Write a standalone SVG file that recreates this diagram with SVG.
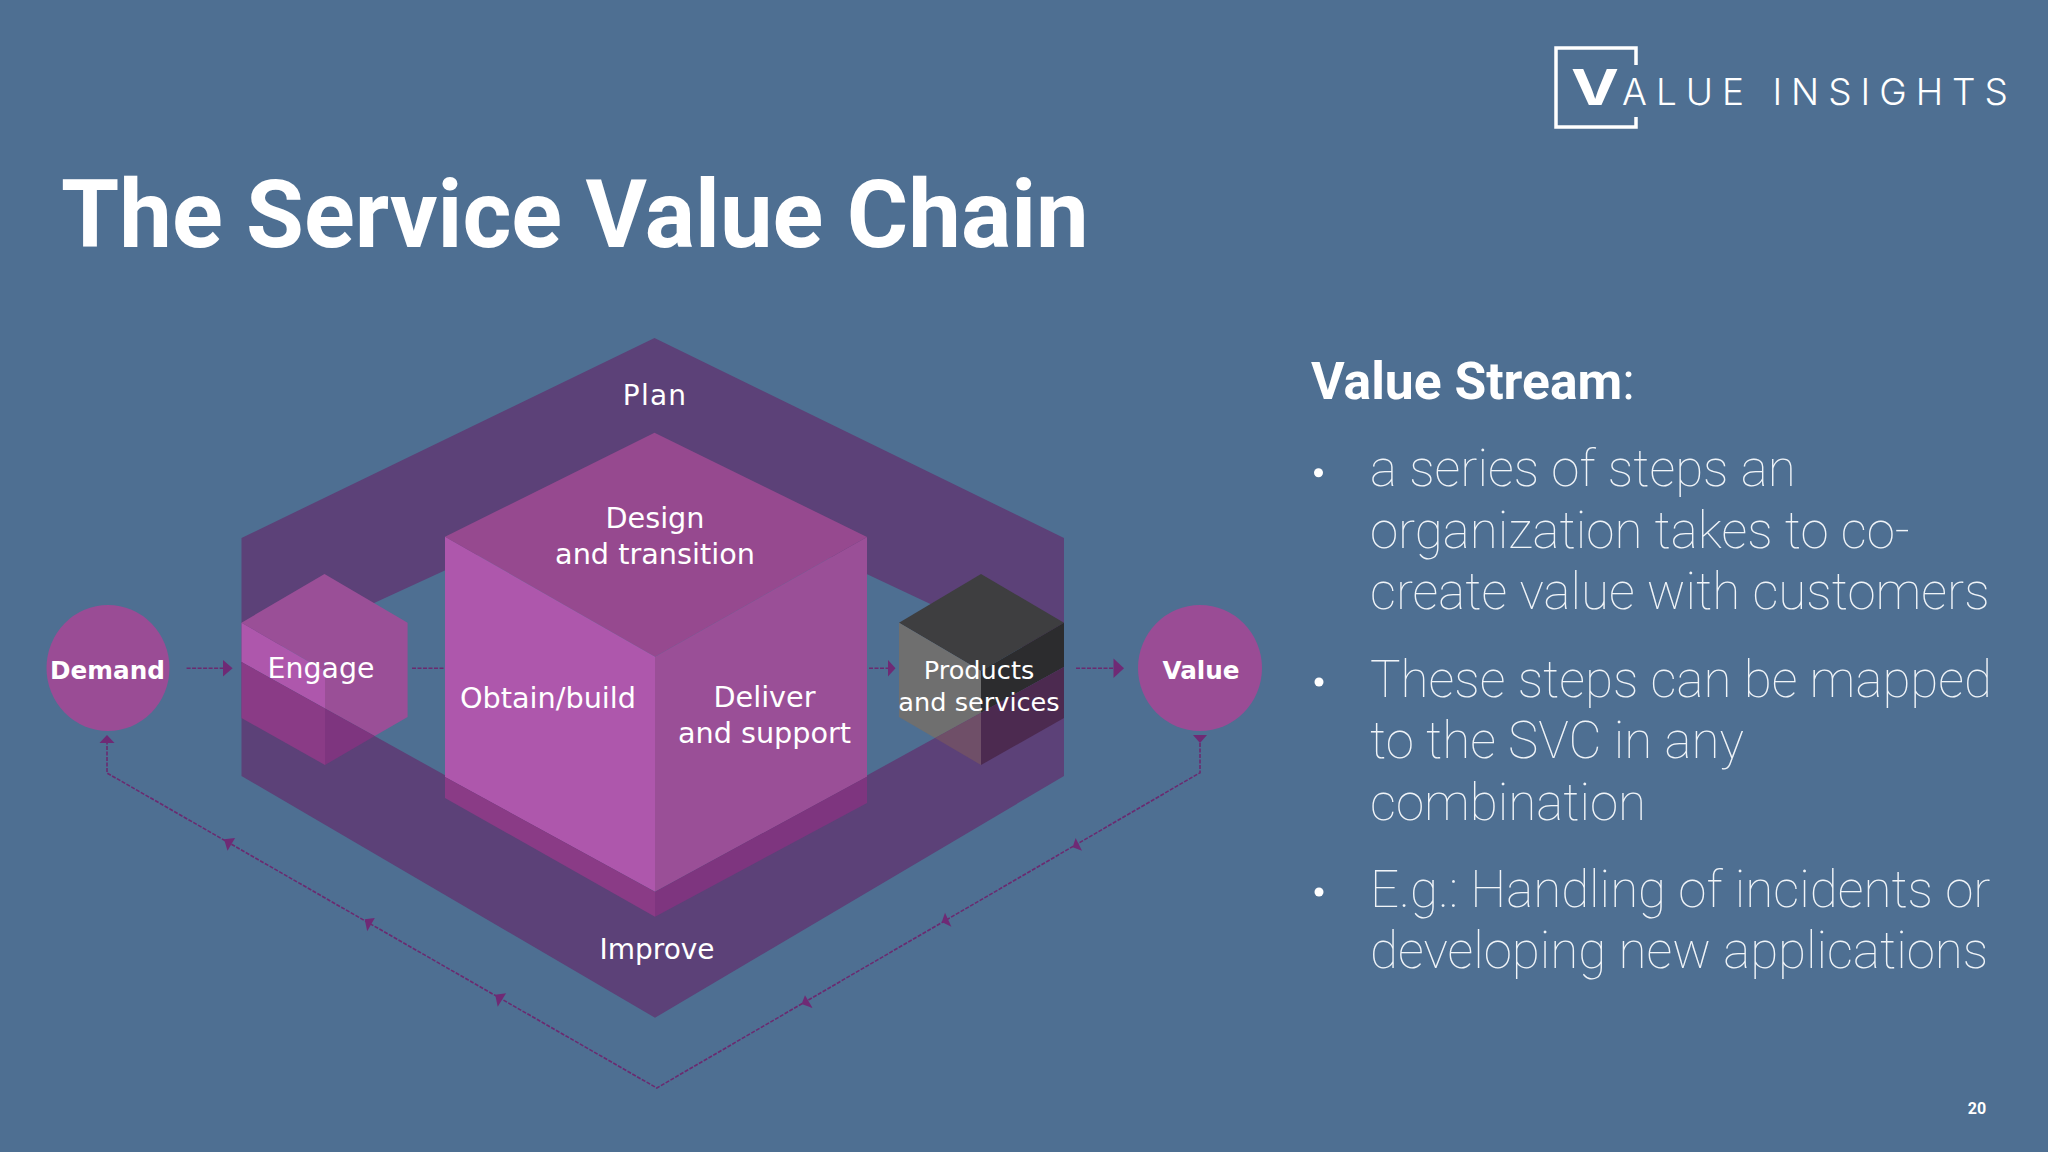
<svg xmlns="http://www.w3.org/2000/svg" width="2048" height="1152" viewBox="0 0 2048 1152">
<style>
.lbl{font-family:"DejaVu Sans",sans-serif;font-size:28.7px;fill:#fff;text-anchor:middle}
.sm{font-size:25.6px}
.bold{font-family:"DejaVu Sans",sans-serif;font-size:24.7px;font-weight:700;fill:#fff;text-anchor:middle}
.body{font-family:Roboto,sans-serif;font-weight:100;font-size:51.1px;fill:#f0f4f8}
.line{fill:none;stroke:#6b2a70;stroke-width:1.6;stroke-dasharray:4 1.5}
.head{fill:#6f2a75}
.band{fill:#5c4178}
.t{fill:#96498f}.l{fill:#ae57ac}.r{fill:#9a4f97}.ld{fill:#8a3b86}.rd{fill:#7e357f}
</style>
<rect width="2048" height="1152" fill="#4e6f92"/>
<g id="logo">
<path d="M1636 65V48H1556V127H1636V117" fill="none" stroke="#fff" stroke-width="3.5"/>
<text x="1571" y="105" font-family="Inter,sans-serif" font-weight="700" font-size="50" fill="#fff" textLength="48" lengthAdjust="spacingAndGlyphs">V</text>
<text x="1622" y="105" font-family="Inter,sans-serif" font-weight="300" font-size="37" fill="#fff" textLength="386" lengthAdjust="spacing">ALUE INSIGHTS</text>
</g>
<text id="title" x="61" y="247" font-family="Roboto,sans-serif" font-weight="700" font-size="94" fill="#fff">The Service Value Chain</text>
<g id="plan">
<polygon class="band" points="241.5,538 654.5,338 1064,538 1064,667 654.5,474 241.5,664"/>
<text class="lbl" x="655" y="405" style="font-size:28px;letter-spacing:1.2px">Plan</text>
</g>
<g id="improve">
<polygon class="band" points="241.5,662 655,892 1064,667 1064,776 655,1017.7 241.5,776"/>
<text class="lbl" x="657" y="959" style="font-size:28px">Improve</text>
</g>
<g id="connectors">
<path class="line" d="M186.6 668.3H224M412 668.3H445M869 668.3H889M1076 668.3H1114"/>
<polygon class="head" points="223,660 232.6,668.3 223,676.6"/>
<polygon class="head" points="888,660 895.5,668.3 888,676.6"/>
<polygon class="head" points="1113.5,658.5 1124,668.3 1113.5,678"/>
<path class="line" d="M1200 743V772.7L656.8 1088L107 773V743"/>
<polygon class="head" points="1193,735 1207,735 1200,743"/>
<polygon class="head" points="99.5,743 114.5,743 107,735"/>
<polygon class="head" points="224.1,839.3 235.1,838 227.5,850.7"/>
<polygon class="head" points="364.7,919.3 374.8,918 367.2,931.3"/>
<polygon class="head" points="495.2,994.7 506.1,993.3 497.7,1006.7"/>
<polygon class="head" points="1075.6,838 1072.7,847.3 1082,850.7"/>
<polygon class="head" points="945,912.7 941.8,922 951.4,926.7"/>
<polygon class="head" points="805,995.3 801.6,1004 812.6,1008"/>
</g>
<g id="demand">
<ellipse cx="108" cy="668" rx="61.5" ry="63" fill="#9a4c95"/>
<text class="bold" x="107.5" y="679">Demand</text>
</g>
<g id="value">
<ellipse cx="1200" cy="668" rx="62" ry="63" fill="#9a4c95"/>
<text class="bold" x="1201" y="679">Value</text>
</g>
<g id="engage">
<polygon class="r" points="324.5,574 407.6,622.7 407.6,717 374.7,736 325,708.4 325,671 241.5,622.7"/>
<polygon class="l" points="241.5,622.7 325,671 325,708.4 241.5,662"/>
<polygon class="ld" points="241.5,662 325,708.4 325,765 241.5,718"/>
<polygon class="rd" points="325,708.4 374.7,736 325,765"/>
<text class="lbl" x="321" y="678" style="font-size:28.4px">Engage</text>
</g>
<g id="cube">
<polygon class="t" points="654.5,432.7 867,537 655,656.7 445,536.7"/>
<polygon class="l" points="445,536.7 655,656.7 655,891.7 445,777"/>
<polygon class="r" points="655,656.7 867,537 867,776.7 655,891.7"/>
<polygon class="ld" points="445,777 655,891.7 655,916.7 445,798"/>
<polygon class="rd" points="655,891.7 867,776.7 867,803 655,916.7"/>
<text class="lbl" x="655" y="528">Design</text>
<text class="lbl" x="655" y="564">and transition</text>
<text class="lbl" x="548" y="708">Obtain/build</text>
<text class="lbl" x="764.5" y="707">Deliver</text>
<text class="lbl" x="764.5" y="743">and support</text>
</g>
<g id="products">
<polygon fill="#3e3e40" points="981,574 1064,622.7 981,671 899,622.7"/>
<polygon fill="#6f6f6f" points="899,622.7 981,671 981,712.7 935,738 899,717"/>
<polygon fill="#6f4f68" points="935,738 981,712.7 981,765"/>
<polygon fill="#2c2c2e" points="981,671 1064,622.7 1064,667 981,712.7"/>
<polygon fill="#4c2a50" points="981,712.7 1064,667 1064,718 981,765"/>
<text class="lbl sm" x="979" y="679">Products</text>
<text class="lbl sm" x="979" y="711">and services</text>
</g>
<g id="text-panel">
<text x="1311" y="399" font-family="Roboto,sans-serif" font-size="51.6" fill="#fff"><tspan font-weight="700">Value Stream</tspan><tspan font-weight="400">:</tspan></text>
<circle cx="1318.5" cy="472.7" r="4.5" fill="#fff"/>
<circle cx="1319" cy="682" r="4.5" fill="#fff"/>
<circle cx="1319" cy="892" r="4.5" fill="#fff"/>
<text class="body" x="1370" y="486">a series of steps an</text>
<text class="body" x="1370" y="547.5">organization takes to co-</text>
<text class="body" x="1370" y="609">create value with customers</text>
<text class="body" x="1370" y="697">These steps can be mapped</text>
<text class="body" x="1370" y="758">to the SVC in any</text>
<text class="body" x="1370" y="820">combination</text>
<text class="body" x="1370" y="907">E.g.: Handling of incidents or</text>
<text class="body" x="1370" y="968">developing new applications</text>
</g>
<text id="page" x="1977" y="1114" font-family="Roboto,sans-serif" font-weight="700" font-size="16" fill="#fff" text-anchor="middle">20</text>
</svg>
